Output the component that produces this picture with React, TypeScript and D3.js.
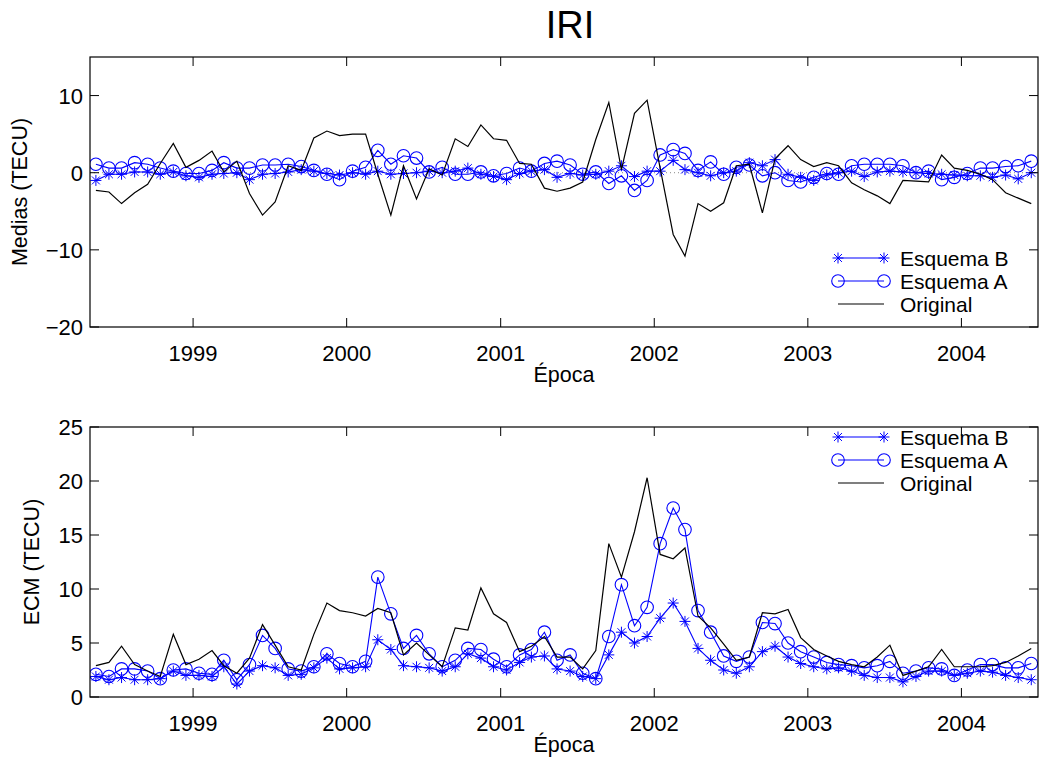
import * as d3 from "d3"

// monthly points, May 1998 .. Jun 2004
const months = d3.timeMonth.range(new Date(1998, 4, 1), new Date(2004, 6, 1)).map((d) => new Date(d.getFullYear(), d.getMonth(), 15))

const origTop = [
  -2.3, -2.5, -4.0, -2.6, -1.5, 1.2, 3.8, 0.7, 1.6, 2.8, 0.1, 1.5, -2.7, -5.5, -3.8, 0.9, 0.3, 4.5, 5.4, 4.8,
  5.0, 5.0, -0.2, -5.5, 0.9, -3.4, 0.5, -0.3, 4.4, 3.4, 6.2, 4.4, 4.2, 1.2, 1.1, -2.0, -2.4, -2.0, -1.2, 4.3,
  9.1, 0.4, 7.7, 9.4, 0.6, -8.0, -10.8, -4.0, -5.0, -3.9, 0.9, 1.1, -5.2, 1.8, 3.5, 1.7, 0.8, 1.3, 0.9, -1.3,
  -2.2, -3.0, -4.0, -1.0, -1.1, -1.2, 2.3, 0.6, 0.3, -0.2, -0.9, -2.6, -3.3, -4.0,
]
const esqATop = [
  1.1, 0.6, 0.6, 1.3, 1.1, 0.6, 0.2, -0.1, -0.1, 0.3, 1.3, 0.6, 0.6, 1.0, 1.0, 1.1, 0.8, 0.3, -0.2, -0.9,
  0.2, 0.7, 2.9, 1.1, 2.2, 1.9, 0.1, 0.7, -0.2, -0.2, 0.1, -0.4, -0.1, 0.6, 0.2, 1.2, 1.5, 1.0, -0.2, 0.1,
  -1.4, -0.4, -2.3, -1.0, 2.3, 3.0, 2.5, 0.3, 1.4, -0.2, 0.7, 1.0, -0.4, 0.0, -1.0, -1.2, -0.6, -0.1, -0.2, 0.9,
  1.1, 1.1, 1.1, 0.9, 0.0, 0.2, -0.9, -0.6, -0.1, 0.6, 0.6, 0.8, 0.9, 1.5,
]
const esqBTop = [
  -1.0, -0.2, -0.2, 0.1, 0.1, -0.2, 0.1, -0.4, -0.6, -0.2, -0.1, 0.0, -0.9, -0.2, -0.1, 0.1, 0.4, 0.2, -0.1, -0.3,
  0.0, -0.2, 0.2, -0.2, -0.1, 0.0, 0.2, 0.0, 0.2, 0.6, -0.2, -0.5, -0.9, -0.1, 0.2, 0.4, -0.6, -0.1, -0.3, -0.2,
  0.2, 0.9, -0.5, 0.2, 0.2, 1.6, 0.4, 0.0, -0.4, 0.0, 0.2, 1.3, 0.9, 1.7, -0.2, -0.6, -1.0, -0.3, 0.0, 0.2,
  -0.5, 0.1, 0.2, 0.1, 0.0, -0.1, -0.2, -0.3, -0.4, -0.4, -0.6, -0.3, -0.8, 0.0,
]

const origBot = [
  2.9, 3.2, 4.7, 3.0, 2.4, 1.9, 5.8, 3.0, 3.5, 4.3, 2.9, 2.2, 3.6, 6.7, 4.8, 2.8, 2.5, 5.8, 8.7, 8.0,
  7.8, 7.5, 8.2, 7.8, 3.9, 5.0, 3.9, 2.8, 6.4, 6.2, 10.1, 7.7, 6.9, 4.2, 4.7, 5.6, 3.7, 3.7, 2.6, 4.3,
  14.2, 11.1, 15.3, 20.3, 13.2, 12.8, 13.8, 7.5, 6.4, 4.9, 3.4, 3.7, 7.8, 7.7, 8.1, 5.5, 4.4, 3.8, 3.3, 3.0,
  2.8, 3.7, 4.8, 2.0, 2.4, 2.8, 4.4, 2.8, 2.8, 2.8, 2.9, 3.2, 3.8, 4.5,
]
const esqABot = [
  2.1, 1.9, 2.6, 2.6, 2.4, 1.7, 2.5, 2.6, 2.2, 2.1, 3.4, 1.6, 3.0, 5.7, 4.5, 2.6, 2.4, 2.8, 4.0, 3.1,
  2.8, 3.3, 11.1, 7.7, 4.5, 5.7, 4.0, 2.8, 3.4, 4.5, 4.4, 3.5, 2.8, 3.9, 4.4, 6.0, 3.4, 3.9, 2.2, 1.7,
  5.6, 10.4, 6.6, 8.3, 14.2, 17.5, 15.5, 8.0, 6.0, 3.8, 3.3, 3.7, 6.9, 6.8, 5.0, 4.2, 3.7, 3.2, 3.0, 2.9,
  2.7, 2.9, 3.3, 2.2, 2.4, 2.7, 2.6, 2.0, 2.5, 3.0, 3.0, 2.7, 2.7, 3.1,
]
const esqBBot = [
  1.9, 1.6, 1.8, 1.6, 1.6, 1.7, 2.4, 2.0, 2.0, 1.9, 2.8, 1.2, 2.4, 2.9, 2.7, 2.0, 2.1, 2.7, 3.6, 2.6,
  2.7, 2.8, 5.3, 4.4, 2.9, 2.8, 2.7, 2.4, 2.8, 4.0, 3.6, 2.8, 2.5, 3.2, 3.7, 3.8, 2.6, 2.4, 1.9, 1.7,
  3.9, 6.0, 5.0, 5.6, 7.3, 8.7, 7.0, 4.5, 3.4, 2.5, 2.2, 2.8, 4.2, 4.7, 3.7, 3.1, 2.8, 2.6, 2.7, 2.4,
  2.0, 1.8, 1.8, 1.4, 1.9, 2.4, 2.4, 2.0, 2.2, 2.4, 2.3, 2.0, 1.8, 1.6,
]

const yearTicks = [1999, 2000, 2001, 2002, 2003, 2004]
const topTicks = [-20, -10, 0, 10]
const botTicks = [0, 5, 10, 15, 20, 25]
const legendNames = ["Esquema B", "Esquema A", "Original"]

const font = "'Liberation Sans', Arial, Helvetica, sans-serif"
const blue = "#0000ff"
const L = 90
const R = 1038

const x = d3.scaleTime().domain([new Date(1998, 4, 1), new Date(2004, 6, 1)]).range([L, R])

function Star({ cx, cy, s = 5.5 }: { cx: number; cy: number; s?: number }) {
  const d = s * 0.72
  return (
    <path
      d={`M${cx - s},${cy}H${cx + s}M${cx},${cy - s}V${cy + s}M${cx - d},${cy - d}L${cx + d},${cy + d}M${cx - d},${cy + d}L${cx + d},${cy - d}`}
      stroke={blue}
      strokeWidth={1}
    />
  )
}

function Panel({
  top,
  bottom,
  domain,
  ticks,
  orig,
  esqA,
  esqB,
  ylabel,
  ylabelX,
  zeroLine,
  legendY,
}: {
  top: number
  bottom: number
  domain: [number, number]
  ticks: number[]
  orig: number[]
  esqA: number[]
  esqB: number[]
  ylabel: string
  ylabelX: number
  zeroLine: boolean
  legendY: number[]
}) {
  const y = d3.scaleLinear().domain(domain).range([bottom, top])
  const line = d3
    .line<number>()
    .x((_, i) => x(months[i]))
    .y((v) => y(v))
  const clipId = `clip${top}`
  return (
    <g>
      <clipPath id={clipId}>
        <rect x={L} y={top} width={R - L} height={bottom - top} />
      </clipPath>
      {zeroLine && (
        <line x1={L} x2={R} y1={y(0)} y2={y(0)} stroke="#888" strokeWidth={1} strokeDasharray="1 3" />
      )}
      <g clipPath={`url(#${clipId})`}>
        <path d={line(esqB) ?? ""} fill="none" stroke={blue} strokeWidth={1.1} />
        {esqB.map((v, i) => (
          <Star key={i} cx={x(months[i])} cy={y(v)} />
        ))}
        <path d={line(esqA) ?? ""} fill="none" stroke={blue} strokeWidth={1.1} />
        {esqA.map((v, i) => (
          <circle key={i} cx={x(months[i])} cy={y(v)} r={6.3} fill="none" stroke={blue} strokeWidth={1.1} />
        ))}
        <path d={line(orig) ?? ""} fill="none" stroke="#000" strokeWidth={1.2} />
      </g>

      <rect x={L} y={top} width={R - L} height={bottom - top} fill="none" stroke="#000" strokeWidth={1.2} />

      {yearTicks.map((yr) => {
        const px = x(new Date(yr, 0, 1))
        return (
          <g key={yr}>
            <line x1={px} x2={px} y1={bottom} y2={bottom - 9} stroke="#000" />
            <line x1={px} x2={px} y1={top} y2={top + 9} stroke="#000" />
            <text x={px} y={bottom + 34} textAnchor="middle" fontSize={22} fontFamily={font}>
              {yr}
            </text>
          </g>
        )
      })}
      {ticks.map((t) => (
        <g key={t}>
          <line x1={L} x2={L + 9} y1={y(t)} y2={y(t)} stroke="#000" />
          <line x1={R} x2={R - 9} y1={y(t)} y2={y(t)} stroke="#000" />
          <text x={L - 7} y={y(t) + 8} textAnchor="end" fontSize={22} fontFamily={font}>
            {t < 0 ? `\u2212${-t}` : t}
          </text>
        </g>
      ))}

      <text x={(L + R) / 2} y={bottom + 55} textAnchor="middle" fontSize={21.5} fontFamily={font}>
        Época
      </text>
      <text
        transform={`translate(${ylabelX},${(top + bottom) / 2}) rotate(-90)`}
        textAnchor="middle"
        fontSize={21.5}
        fontFamily={font}
      >
        {ylabel}
      </text>

      {/* legend */}
      {legendNames.map((name, i) => {
        const ly = legendY[i]
        return (
          <g key={name}>
            <line x1={838} x2={884} y1={ly} y2={ly} stroke={i === 2 ? "#000" : blue} strokeWidth={1.1} />
            {i === 0 && (
              <>
                <Star cx={838} cy={ly} />
                <Star cx={884} cy={ly} />
              </>
            )}
            {i === 1 && (
              <>
                <circle cx={838} cy={ly} r={6.3} fill="none" stroke={blue} strokeWidth={1.1} />
                <circle cx={884} cy={ly} r={6.3} fill="none" stroke={blue} strokeWidth={1.1} />
              </>
            )}
            <text x={900} y={ly + 7.5} fontSize={21} fontFamily={font}>
              {name}
            </text>
          </g>
        )
      })}
    </g>
  )
}

export default function App() {
  return (
    <svg
      width={1043}
      height={758}
      viewBox="0 0 1043 758"
      style={{ position: "absolute", left: 0, top: 0, background: "#fff" }}
    >
      <rect width={1043} height={758} fill="#fff" />
      <text x={570} y={38} textAnchor="middle" fontSize={38} fontFamily={font}>
        IRI
      </text>
      <Panel
        top={57}
        bottom={327}
        domain={[-20, 15]}
        ticks={topTicks}
        orig={origTop}
        esqA={esqATop}
        esqB={esqBTop}
        ylabel="Medias (TECU)"
        ylabelX={27}
        zeroLine
        legendY={[258, 281, 304]}
      />
      <Panel
        top={427}
        bottom={697}
        domain={[0, 25]}
        ticks={botTicks}
        orig={origBot}
        esqA={esqABot}
        esqB={esqBBot}
        ylabel="ECM (TECU)"
        ylabelX={39}
        zeroLine={false}
        legendY={[437, 460, 483]}
      />
    </svg>
  )
}
